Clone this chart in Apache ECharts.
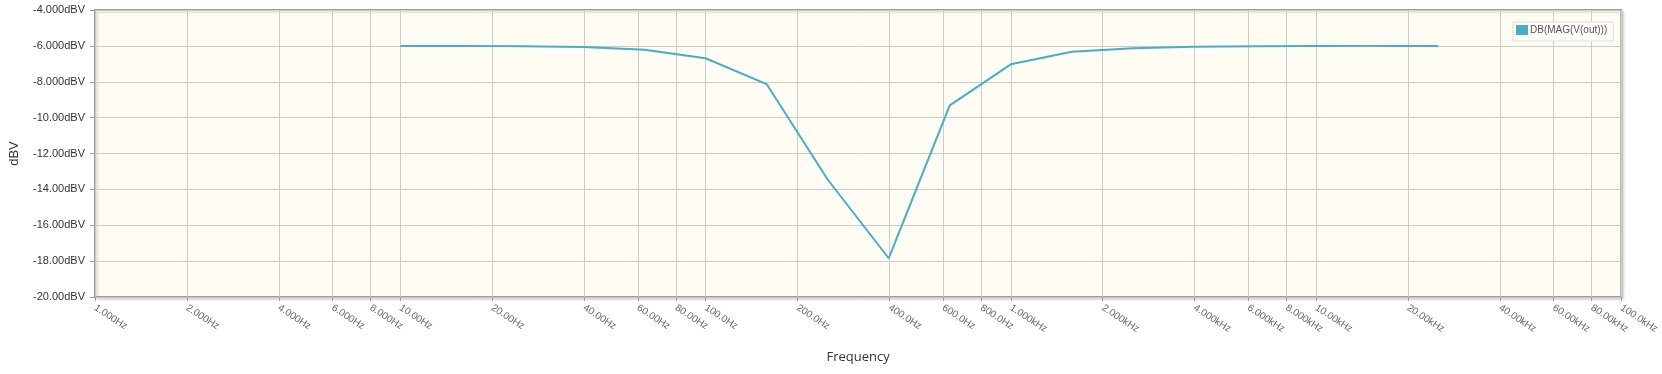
<!DOCTYPE html>
<html>
<head>
<meta charset="utf-8">
<script src="https://cdn.jsdelivr.net/npm/echarts@6/dist/echarts.min.js"></script>
<style>
html,body{margin:0;padding:0;background:#fff;}
#chart{width:1662px;height:374px;}
</style>
</head>
<body>
<div id="chart"></div>
<script>
// Frequency points (Hz) and magnitude (dBV)
const freqs = [10, 15.85, 25.12, 39.81, 63.10, 100, 158.5, 251.2, 398.1, 631.0, 1000, 1585, 2512, 3981, 6310, 10000, 15849, 25119];
const dbv   = [-6.00, -6.00, -6.02, -6.06, -6.22, -6.69, -8.13, -13.45, -17.84, -9.32, -7.03, -6.33, -6.13, -6.05, -6.02, -6.01, -6.00, -6.00];
const xTicks = [1, 2, 4, 6, 8, 10, 20, 40, 60, 80, 100, 200, 400, 600, 800, 1000, 2000, 4000, 6000, 8000, 10000, 20000, 40000, 60000, 80000, 100000];
const seriesName = 'DB(MAG(V(out)))';

function fmt4(v) {
  const a = Math.abs(v);
  if (a < 10) return v.toFixed(3);
  if (a < 100) return v.toFixed(2);
  return v.toFixed(1);
}
function fmtFreq(v) {
  if (v >= 1000) return fmt4(v / 1000) + 'kHz';
  return fmt4(v) + 'Hz';
}

const chart = echarts.init(document.getElementById('chart'));
chart.setOption({
  animation: false,
  grid: {
    left: 90, right: 40, top: 10, bottom: 77,
    show: true,
    backgroundColor: '#FFFCF4',
    borderColor: '#999999',
    borderWidth: 2,
    shadowColor: 'rgba(0,0,0,0.12)',
    shadowOffsetX: 2,
    shadowOffsetY: 2,
    shadowBlur: 2
  },
  legend: {
    left: 1513, top: 22,
    icon: 'rect',
    itemWidth: 12, itemHeight: 10,
    itemGap: 4,
    padding: [3, 6, 6, 3],
    backgroundColor: '#FFFDF8',
    borderColor: '#DDDDDD',
    borderWidth: 1,
    textStyle: { fontFamily: 'Liberation Sans', fontSize: 10, color: '#555', padding: [-3, 0, 0, -3] },
    data: [{ name: seriesName, itemStyle: { color: '#46AFC3' } }]
  },
  xAxis: {
    type: 'log',
    logBase: 10,
    min: 1,
    max: 100000,
    name: 'Frequency',
    nameLocation: 'middle',
    nameGap: 54,
    nameTextStyle: { fontFamily: 'Open Sans', fontSize: 13, color: '#333' },
    axisLine: { show: false },
    axisTick: { show: true, customValues: xTicks, length: 4, lineStyle: { color: '#999' } },
    axisLabel: {
      customValues: xTicks,
      rotate: -33,
      margin: 10,
      fontFamily: 'Liberation Sans',
      fontSize: 10,
      color: '#666',
      formatter: fmtFreq
    },
    splitLine: { show: true, customValues: xTicks, lineStyle: { color: '#CCCCCC', width: 1 } },
    minorSplitLine: { show: false }
  },
  yAxis: {
    type: 'value',
    min: -20,
    max: -4,
    interval: 2,
    name: 'dBV',
    nameLocation: 'middle',
    nameGap: 74,
    nameTextStyle: { fontFamily: 'Liberation Sans', fontSize: 13, color: '#333' },
    axisLine: { show: false },
    axisTick: { show: true, length: 5, lineStyle: { color: '#999' } },
    axisLabel: {
      margin: 10,
      fontFamily: 'Liberation Sans',
      fontSize: 11,
      color: '#333',
      padding: [0, 0, 8, 0],
      formatter: function (v) { return fmt4(v) + 'dBV'; }
    },
    splitLine: { show: true, lineStyle: { color: '#CCCCCC', width: 1 } }
  },
  series: [{
    name: seriesName,
    type: 'line',
    showSymbol: false,
    symbol: 'none',
    color: '#46AFC3',
    lineStyle: { width: 2, color: '#46AFC3' },
    data: freqs.map((f, i) => [f, dbv[i]])
  }]
});
</script>
</body>
</html>
